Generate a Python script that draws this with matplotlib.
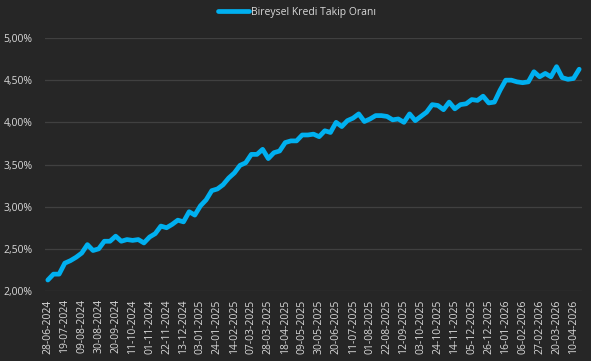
import numpy as np
import pandas as pd
import matplotlib.pyplot as plt
from matplotlib.ticker import FuncFormatter

# Weekly data, 28-06-2024 .. 17-04-2026
dates = pd.date_range("2024-06-28", periods=95, freq="7D")
rates = [
    2.13, 2.20, 2.20, 2.33, 2.36, 2.40, 2.45, 2.55, 2.48, 2.50,
    2.59, 2.59, 2.65, 2.59, 2.61, 2.60, 2.61, 2.57, 2.64, 2.68,
    2.77, 2.75, 2.79, 2.84, 2.82, 2.94, 2.90, 3.01, 3.08, 3.19,
    3.21, 3.26, 3.34, 3.40, 3.49, 3.52, 3.62, 3.62, 3.68, 3.57,
    3.64, 3.66, 3.76, 3.78, 3.78, 3.85, 3.85, 3.86, 3.83, 3.90,
    3.88, 4.00, 3.95, 4.02, 4.05, 4.10, 4.01, 4.04, 4.08, 4.08,
    4.07, 4.03, 4.04, 4.00, 4.10, 4.02, 4.07, 4.12, 4.21, 4.20,
    4.15, 4.24, 4.16, 4.21, 4.22, 4.27, 4.26, 4.31, 4.23, 4.24,
    4.38, 4.50, 4.50, 4.48, 4.47, 4.48, 4.60, 4.54, 4.58, 4.54,
    4.66, 4.53, 4.51, 4.52, 4.63,
]
labels = [d.strftime("%d-%m-%Y") for d in dates]
series_name = "Bireysel Kredi Takip Oranı"

bg = "#262626"
grid_col = "#404040"
text_col = "#d9d9d9"
line_col = "#00b0f0"

plt.rcParams["font.family"] = ["Open Sans", "DejaVu Sans"]

fig = plt.figure(figsize=(5.91, 3.61), dpi=100, facecolor=bg)
ax = fig.add_axes([45 / 591, 1 - 291 / 361, (582 - 45) / 591, (291 - 38) / 361])
ax.set_facecolor(bg)

x = np.arange(len(rates))
ax.plot(x, rates, color=line_col, linewidth=3.4, solid_joinstyle="round",
        solid_capstyle="round", label=series_name)

ax.set_xlim(-0.5, len(rates) - 0.5)
ax.set_ylim(2.0, 5.0)
ax.set_yticks(np.arange(2.0, 5.01, 0.5))
ax.yaxis.set_major_formatter(FuncFormatter(lambda v, p: f"{v:.2f}%".replace(".", ",")))
tick_pos = x[::3]
ax.set_xticks(tick_pos)
ax.set_xticklabels([labels[i] for i in tick_pos], rotation=90)

ax.grid(axis="y", color=grid_col, linewidth=0.9)
ax.set_axisbelow(True)
for s in ax.spines.values():
    s.set_visible(False)
ax.tick_params(length=0, colors=text_col, labelsize=7.5)
ax.tick_params(axis="y", pad=9)
ax.tick_params(axis="x", pad=6)

leg = fig.legend(loc="center", bbox_to_anchor=(297 / 591, 1 - 12 / 361), frameon=False,
                 fontsize=7.5, handlelength=3.0, handletextpad=0.2)
for t in leg.get_texts():
    t.set_color(text_col)

fig.savefig("out.png", dpi=100, facecolor=bg)
